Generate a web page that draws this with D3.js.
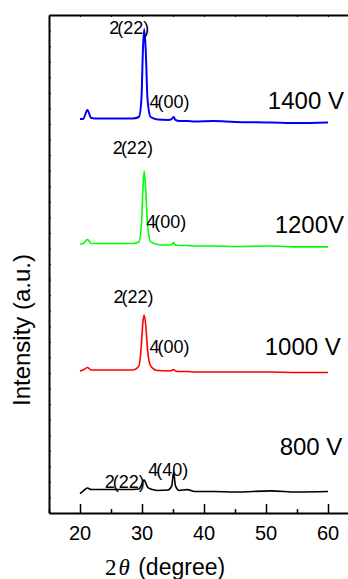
<!DOCTYPE html>
<html>
<head>
<meta charset="utf-8">
<script src="https://cdn.jsdelivr.net/npm/d3@7"></script>
<style>
  body { margin: 0; background: #fff; }
  text { font-family: "Liberation Sans", Arial, sans-serif; fill: #000; }
</style>
</head>
<body>
<div id="holder"></div>
<script>
// 2theta sampling points shared by every pattern
var twoTheta = [20, 20.5, 21.2, 21.8, 23, 26, 28.5, 29.5, 29.9, 30.15, 30.35, 30.6, 30.9, 31.4,
                32.5, 34.2, 34.8, 35.1, 35.4, 36, 37.3, 38.5, 41.5, 45, 50.8, 55, 60];

// stacked intensities (a.u.) as plotted
var i1400 = [25.32, 25.32, 25.90, 25.39, 25.35, 25.35, 25.35, 25.45, 26.54, 29.76, 31.11, 29.76, 26.54, 25.45,
             25.29, 25.26, 25.32, 25.45, 25.26, 25.19, 25.19, 25.16, 25.19, 25.13, 25.10, 25.06, 25.10];
var i1200 = [17.29, 17.32, 17.58, 17.32, 17.32, 17.32, 17.32, 17.42, 18.51, 20.76, 21.98, 20.76, 18.51, 17.42,
             17.26, 17.22, 17.26, 17.38, 17.22, 17.19, 17.19, 17.16, 17.16, 17.13, 17.16, 17.10, 17.10];
var i1000 = [9.13, 9.19, 9.35, 9.19, 9.19, 9.19, 9.19, 9.45, 10.80, 12.28, 12.72, 12.08, 10.48, 9.45,
             9.16, 9.13, 9.16, 9.22, 9.13, 9.09, 9.09, 9.06, 9.06, 9.06, 9.06, 9.03, 9.03];
var i800  = [1.25, 1.41, 1.61, 1.51, 1.51, 1.51, 1.51, 1.54, 1.80, 2.06, 2.12, 1.93, 1.67, 1.54,
             1.45, 1.48, 1.74, 2.63, 1.74, 1.45, 1.50, 1.38, 1.38, 1.35, 1.42, 1.35, 1.38];

var seriesNames = ["1400 V", "1200V", "1000 V", "800 V"];
var xTicks = [20, 30, 40, 50, 60];

// peak labels: [series, pre, rest, 2theta, intensity]
var peakLabels = [
  ["1400 V", "2", "(22)", 24.7, 30.8],
  ["1400 V", "4", "(00)", 31.2, 26.0],
  ["1200V",  "2", "(22)", 25.3, 23.1],
  ["1200V",  "4", "(00)", 30.7, 18.3],
  ["1000 V", "2", "(22)", 25.4, 13.5],
  ["1000 V", "4", "(00)", 31.2, 10.3],
  ["800 V",  "2", "(22)", 24.0, 1.6],
  ["800 V",  "4", "(40)", 31.0, 2.4]
];
// name labels: [name, 2theta, intensity]
var nameLabels = [
  ["1400 V", 50.3, 25.96],
  ["1200V",  51.4, 18.0],
  ["1000 V", 49.8, 10.15],
  ["800 V",  52.2, 3.73]
];

var WIDTH = 348, HEIGHT = 579,
    MARGINS = {top: 15, left: 49, bottom: 513};

var colors = {"1400 V": "#0000ff", "1200V": "#00ff00", "1000 V": "#ff0000", "800 V": "#000000"};
var widths = {"1400 V": 2, "1200V": 1.6, "1000 V": 1.6, "800 V": 1.6};
var values = {"1400 V": i1400, "1200V": i1200, "1000 V": i1000, "800 V": i800};

var svg = d3.select("#holder").append("svg")
    .attr("width", WIDTH)
    .attr("height", HEIGHT);

var x = d3.scaleLinear().domain([15, 65]).range([MARGINS.left, MARGINS.left + 50 * 6.2]);
var y = d3.scaleLinear().domain([0, 32]).range([MARGINS.bottom, MARGINS.bottom - 32 * 15.56]);

var line = d3.line()
    .curve(d3.curveMonotoneX)
    .x(function(d) { return x(d[0]); })
    .y(function(d) { return y(d[1]); });

seriesNames.forEach(function(name) {
  var data = twoTheta.map(function(t, i) { return [t, values[name][i]]; });
  svg.append("path")
      .datum(data)
      .attr("fill", "none")
      .attr("stroke", colors[name])
      .attr("stroke-width", widths[name])
      .attr("stroke-linejoin", "round")
      .attr("d", line);
});

// bottom axis, ticks pointing inward
var minor = d3.range(15, 66, 5);
svg.append("g")
    .attr("transform", "translate(0," + MARGINS.bottom + ")")
    .call(d3.axisBottom(x).tickValues(minor).tickSizeInner(-4).tickSizeOuter(0).tickFormat(""))
    .call(function(g) {
      g.selectAll(".tick line").attr("stroke-width", 1.5)
        .filter(function(d) { return xTicks.indexOf(d) >= 0; }).attr("y2", -9);
      g.select(".domain").attr("stroke-width", 2);
    });

svg.append("g")
    .selectAll("text")
    .data(xTicks)
    .enter().append("text")
    .attr("x", function(d) { return x(d); })
    .attr("y", 540)
    .attr("text-anchor", "middle")
    .style("font-size", "20px")
    .text(function(d) { return d; });

// top axis
svg.append("g")
    .attr("transform", "translate(0," + MARGINS.top + ")")
    .call(d3.axisTop(x).tickValues(minor).tickSizeInner(-2).tickSizeOuter(0).tickFormat(""))
    .call(function(g) { g.select(".domain").attr("stroke-width", 2); });

// left axis
svg.append("g")
    .attr("transform", "translate(" + MARGINS.left + ",0)")
    .call(d3.axisLeft(y).tickValues(d3.range(1, 32)).tickSizeInner(-2).tickSizeOuter(0).tickFormat(""))
    .call(function(g) { g.select(".domain").attr("stroke-width", 2); });

// peak labels
peakLabels.forEach(function(p) {
  var t = svg.append("text")
      .attr("x", x(p[3]))
      .attr("y", y(p[4]))
      .style("font-size", "18px");
  t.append("tspan").text(p[1]);
  t.append("tspan").attr("dx", -2).text(p[2]);
});

nameLabels.forEach(function(n) {
  svg.append("text")
      .attr("x", x(n[1]))
      .attr("y", y(n[2]))
      .style("font-size", "24px")
      .text(n[0]);
});

// axis titles
svg.append("text")
    .attr("transform", "translate(30,330) rotate(-90)")
    .attr("text-anchor", "middle")
    .style("font-size", "24px")
    .text("Intensity (a.u.)");

var xt = svg.append("text")
    .attr("x", 105)
    .attr("y", 575)
    .style("font-size", "23px");
xt.append("tspan").style("font-family", "'Liberation Serif', 'Times New Roman', serif").text("2");
xt.append("tspan").attr("dx", 2).style("font-family", "'Liberation Serif', 'Times New Roman', serif")
    .style("font-style", "italic").text("θ");
xt.append("tspan").attr("dx", 2).text(" (degree)");
</script>
</body>
</html>
